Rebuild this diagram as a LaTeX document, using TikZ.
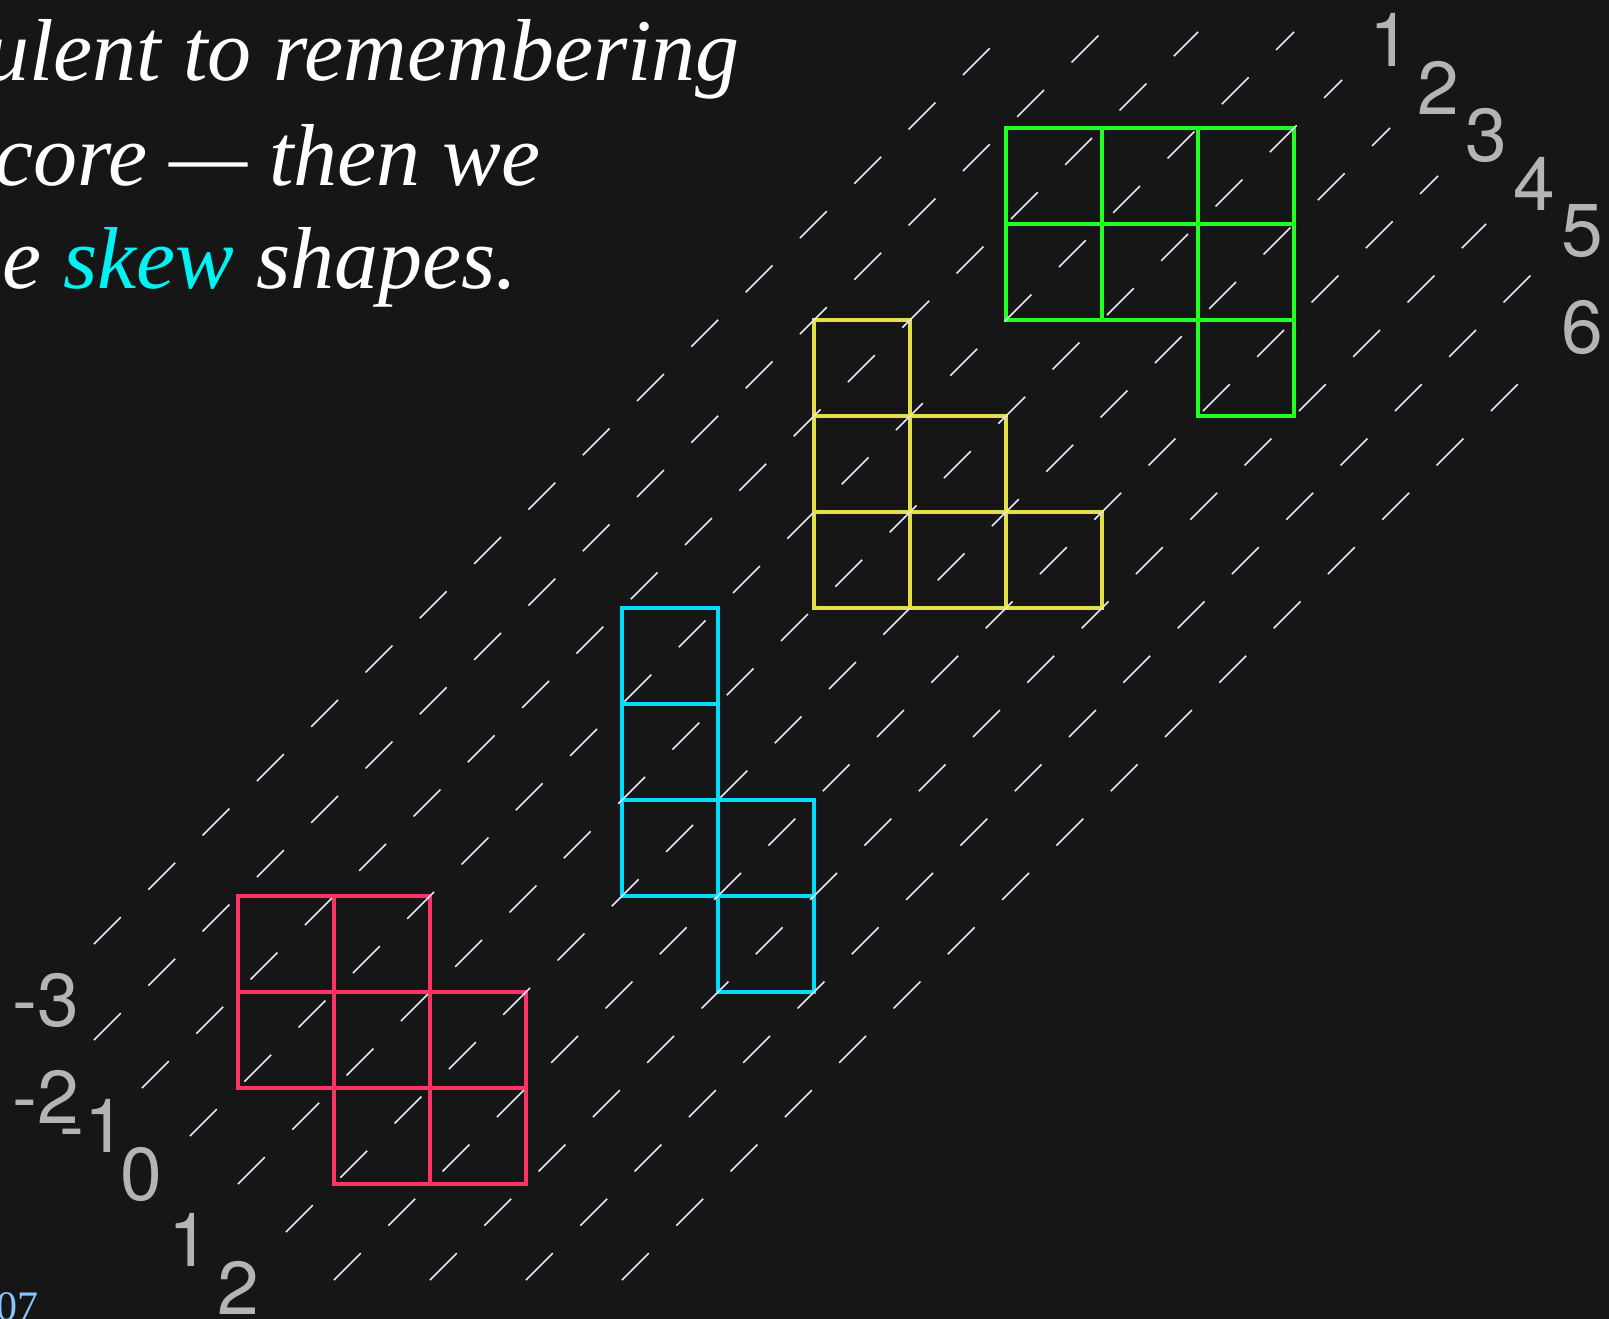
\documentclass[tikz,border=0pt]{standalone}
\usepackage{fontspec}
\setmainfont{Liberation Serif}
\newfontfamily\numfont{TeX Gyre Heros}
\definecolor{bgcol}{HTML}{161616}
\definecolor{redcol}{HTML}{FF3366}
\definecolor{cyancol}{HTML}{00DDFF}
\definecolor{yellowcol}{HTML}{E6DE45}
\definecolor{greencol}{HTML}{22FF22}
\definecolor{skewcol}{HTML}{00F2F2}
\definecolor{dashcol}{HTML}{E6E6FA}
\definecolor{numcol}{HTML}{B4B4B4}
\definecolor{pagecol}{HTML}{88C4FF}
\begin{document}
\begin{tikzpicture}[x=1pt,y=-1pt,
  txt/.style={text=white, inner sep=0pt, font=\fontsize{88}{100}\selectfont\itshape},
  num/.style={text=numcol, inner sep=0pt, font=\numfont\fontsize{75}{75}\selectfont},
  cell/.style={line width=4.4pt},
  diag/.style={draw=dashcol, line width=1.7pt, dash pattern=on 38pt off 38.8pt}]
\useasboundingbox (0,0) rectangle (1609,1319);
\fill[bgcol] (0,0) rectangle (1609,1319);
\clip (0,0) rectangle (1609,1319);
% text
\node[txt, anchor=base east] (l1) at (740,81) {ulent to remembering};
\node[txt, anchor=base east] (l2) at (541,185) {core — then we};
\node[txt, anchor=base east] (l3) at (518,288) {e \textcolor{skewcol}{skew} shapes.};
\node[anchor=base east, inner sep=0pt, text=pagecol, font=\fontsize{42}{42}\selectfont] (pg) at (39,1320) {07};
% lattice
\begin{scope}[shift={(238pt,-128pt)}, x=96pt, y=-96pt]
  \foreach \X/\Y in {0/8,1/8,0/9,1/9,2/9,1/10,2/10}
    \draw[cell, draw=redcol] (\X,\Y) rectangle ++(1,1);
  \foreach \X/\Y in {4/5,4/6,4/7,5/7,5/8}
    \draw[cell, draw=cyancol] (\X,\Y) rectangle ++(1,1);
  \foreach \X/\Y in {6/2,6/3,6/4,7/3,7/4,8/4}
    \draw[cell, draw=yellowcol] (\X,\Y) rectangle ++(1,1);
  \foreach \X/\Y in {8/0,9/0,10/0,8/1,9/1,10/1,10/2}
    \draw[cell, draw=greencol] (\X,\Y) rectangle ++(1,1);
  \foreach \c/\sx/\sy/\ex/\ey in {-3/-1.5/8.5/8/-1, -2/-1.5/9.5/9/-1, -1/-1/10/10/-1,
      0/-0.5/10.5/11/-1, 1/0/11/11.5/-0.5, 2/0.5/11.5/12/0, 3/1/12/12.5/0.5,
      4/2/12/13/1, 5/3/12/13.5/1.5, 6/4/12/13.5/2.5} {
    \coordinate (s\c) at (\sx,\sy);
    \coordinate (e\c) at (\ex,\ey);
    \draw[diag] (s\c) -- (e\c);
  }
\end{scope}
% labels top right
\node[num] (t1) at (1390,39.5) {1};
\node[num] (t2) at (1438,87.5) {2};
\node[num] (t3) at (1486,135.5) {3};
\node[num] (t4) at (1534,183.5) {4};
\node[num] (t5) at (1582,231.5) {5};
\node[num] (t6) at (1582,327.5) {6};
% labels bottom left
\node[num] (bm3) at (45.5,1000.5) {-3};
\node[num] (bm2) at (45.5,1096.5) {-2};
\node[num] (bm1) at (92.8,1126) {-1};
\node[num] (b0) at (141.7,1174.5) {0};
\node[num] (b1) at (189.3,1240) {1};
\node[num] (b2) at (238,1288) {2};
\end{tikzpicture}
\end{document}
